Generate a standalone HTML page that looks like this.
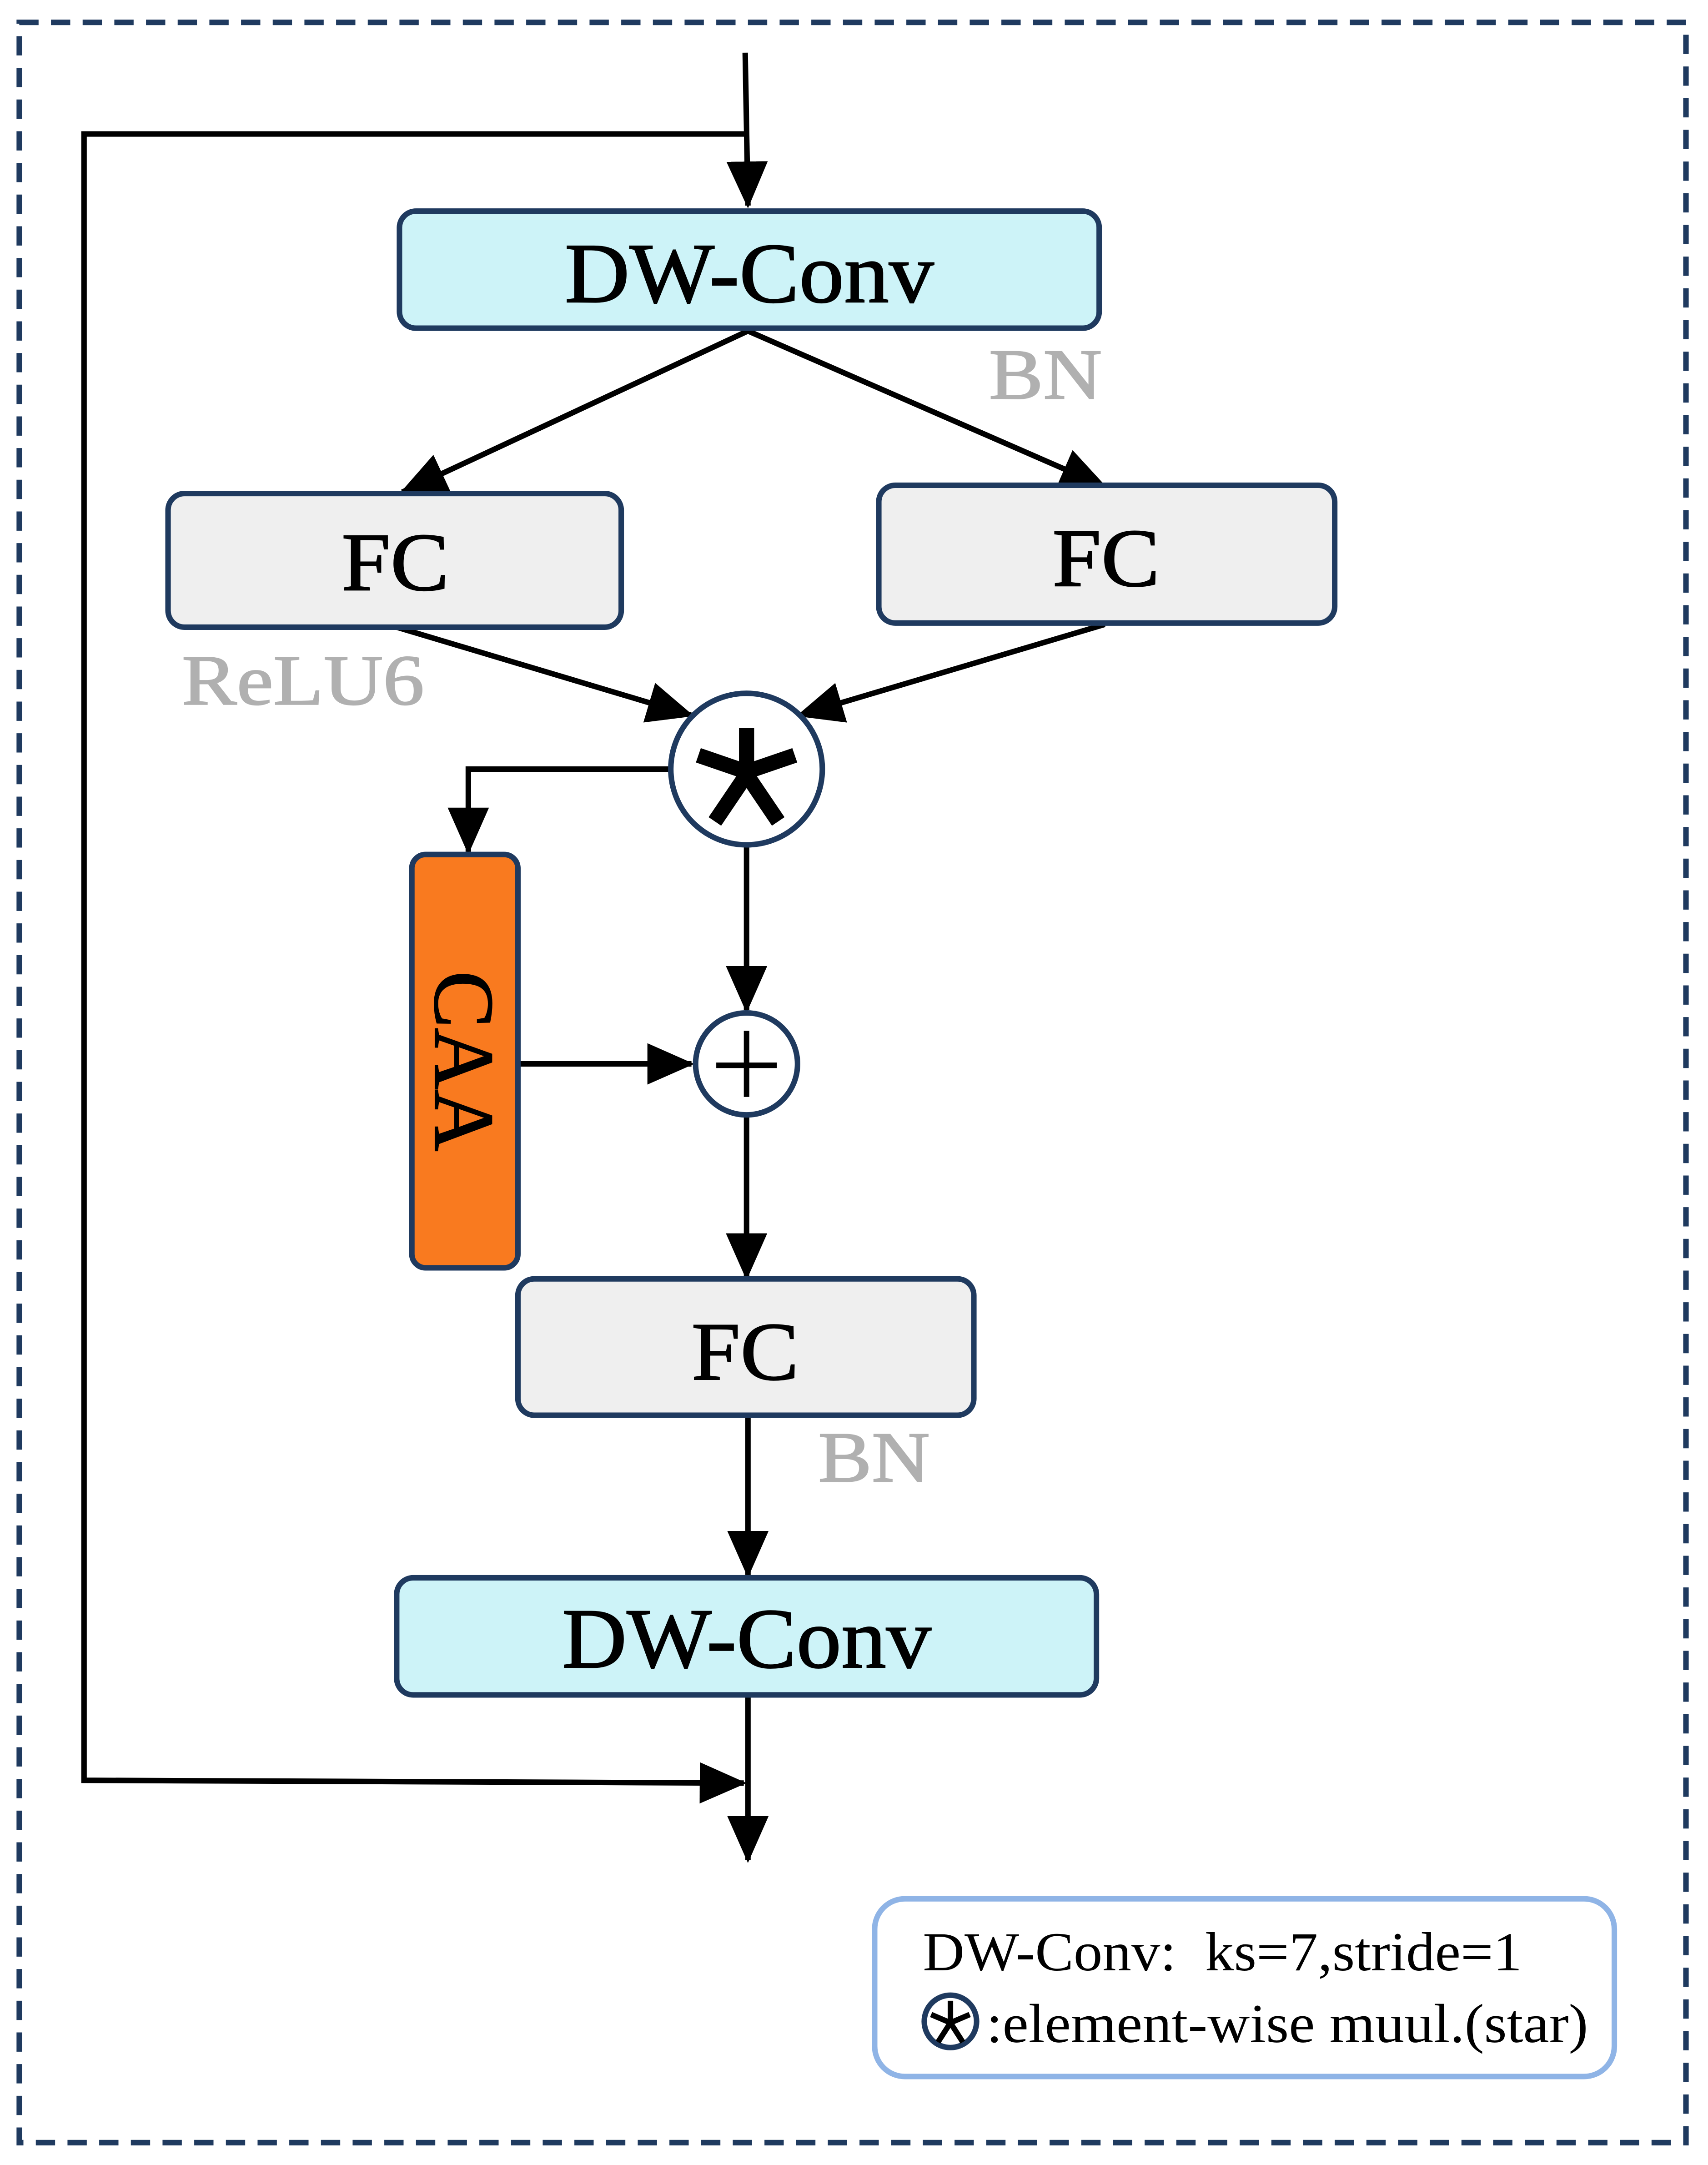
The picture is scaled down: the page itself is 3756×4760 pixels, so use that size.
<!DOCTYPE html>
<html><head><meta charset="utf-8"><style>html,body{margin:0;padding:0;background:#fff}svg{display:block}</style></head>
<body>
<svg width="3756" height="4760" viewBox="0 0 1240 1571" xmlns="http://www.w3.org/2000/svg" font-family="'Liberation Serif', serif">
<defs>
<marker id="a" markerUnits="userSpaceOnUse" markerWidth="34" markerHeight="30" refX="32" refY="15" orient="auto">
<path d="M0,0 L34,15 L0,30 Z" fill="#000"/>
</marker>
</defs>
<rect x="0" y="0" width="1240" height="1571" fill="#fff"/>
<rect x="14" y="16" width="1210" height="1539" fill="none" stroke="#1f3a5f" stroke-width="4" stroke-dasharray="14,9"/>
<g stroke="#000" stroke-width="4" fill="none">
<line x1="541" y1="38" x2="543" y2="149" marker-end="url(#a)"/>
<polyline points="541,97 61,97 61,1292 540,1294" marker-end="url(#a)"/>
<line x1="543" y1="240" x2="292" y2="357" marker-end="url(#a)"/>
<line x1="543" y1="240" x2="802" y2="353" marker-end="url(#a)"/>
<line x1="288" y1="455" x2="502" y2="519" marker-end="url(#a)"/>
<line x1="802" y1="453" x2="580" y2="519" marker-end="url(#a)"/>
<polyline points="487,558 340,558 340,618" marker-end="url(#a)"/>
<line x1="542" y1="613" x2="542" y2="733" marker-end="url(#a)"/>
<line x1="376" y1="772" x2="502" y2="772" marker-end="url(#a)"/>
<line x1="542" y1="810" x2="542" y2="927" marker-end="url(#a)"/>
<line x1="543" y1="1027" x2="543" y2="1143" marker-end="url(#a)"/>
<line x1="543" y1="1230" x2="543" y2="1350" marker-end="url(#a)"/>
</g>
<rect x="290" y="153" width="508" height="85" rx="12" fill="#cdf3f8" stroke="#1f3a5f" stroke-width="4"/>
<text x="410" y="219" font-size="62" textLength="268" lengthAdjust="spacingAndGlyphs" stroke="#000" stroke-width="0.8">DW-Conv</text>
<text x="718" y="289" font-size="52" textLength="82" lengthAdjust="spacingAndGlyphs" fill="#b0b0b0" stroke="#b0b0b0" stroke-width="0.8">BN</text>
<rect x="122" y="358" width="329" height="97" rx="12" fill="#efefef" stroke="#1f3a5f" stroke-width="4"/>
<text x="248" y="428" font-size="60" textLength="78" lengthAdjust="spacingAndGlyphs" stroke="#000" stroke-width="0.8">FC</text>
<rect x="638" y="352" width="331" height="100" rx="12" fill="#efefef" stroke="#1f3a5f" stroke-width="4"/>
<text x="764" y="425" font-size="60" textLength="78" lengthAdjust="spacingAndGlyphs" stroke="#000" stroke-width="0.8">FC</text>
<text x="132" y="511" font-size="52" textLength="176" lengthAdjust="spacingAndGlyphs" fill="#b0b0b0" stroke="#b0b0b0" stroke-width="0.8">ReLU6</text>
<circle cx="542" cy="558" r="55" fill="#fff" stroke="#1f3a5f" stroke-width="4"/>
<g stroke="#000" stroke-width="11" stroke-linecap="butt">
<line x1="542" y1="528" x2="542" y2="565"/>
<line x1="507" y1="548" x2="542" y2="560"/>
<line x1="577" y1="548" x2="542" y2="560"/>
<line x1="519" y1="596" x2="542" y2="562"/>
<line x1="565" y1="596" x2="542" y2="562"/>
</g>
<rect x="299" y="620" width="77" height="300" rx="10" fill="#f97a1f" stroke="#1f3a5f" stroke-width="4"/>
<text transform="translate(316,770) rotate(90)" font-size="62" text-anchor="middle" stroke="#000" stroke-width="0.8">CAA</text>
<circle cx="542" cy="772" r="37" fill="#fff" stroke="#1f3a5f" stroke-width="4"/>
<g stroke="#000" stroke-width="4"><line x1="542" y1="748" x2="542" y2="796"/><line x1="520" y1="773" x2="564" y2="773"/></g>
<rect x="376" y="928" width="331" height="99" rx="12" fill="#efefef" stroke="#1f3a5f" stroke-width="4"/>
<text x="502" y="1001" font-size="60" textLength="78" lengthAdjust="spacingAndGlyphs" stroke="#000" stroke-width="0.8">FC</text>
<text x="594" y="1075" font-size="52" textLength="81" lengthAdjust="spacingAndGlyphs" fill="#b0b0b0" stroke="#b0b0b0" stroke-width="0.8">BN</text>
<rect x="288" y="1145" width="508" height="85" rx="12" fill="#cdf3f8" stroke="#1f3a5f" stroke-width="4"/>
<text x="408" y="1210" font-size="62" textLength="268" lengthAdjust="spacingAndGlyphs" stroke="#000" stroke-width="0.8">DW-Conv</text>
<rect x="635" y="1378" width="537" height="129" rx="22" fill="#fff" stroke="#8fb4e6" stroke-width="4"/>
<text x="670" y="1430" font-size="40" textLength="435" lengthAdjust="spacingAndGlyphs" xml:space="preserve" style="white-space:pre">DW-Conv:  ks=7,stride=1</text>
<circle cx="690" cy="1467" r="19" fill="#fff" stroke="#1f3a5f" stroke-width="4"/>
<g stroke="#000" stroke-width="4"><line x1="690" y1="1452" x2="690" y2="1469"/><line x1="676" y1="1462" x2="690" y2="1468"/><line x1="704" y1="1462" x2="690" y2="1468"/><line x1="681" y1="1482" x2="690" y2="1468"/><line x1="699" y1="1482" x2="690" y2="1468"/></g>
<text x="716" y="1482" font-size="40" textLength="437" lengthAdjust="spacingAndGlyphs">:element-wise muul.(star)</text>
</svg>
</body></html>
